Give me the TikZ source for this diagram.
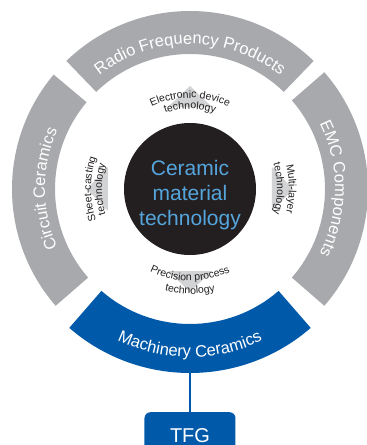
\documentclass[tikz,border=0pt]{standalone}
\usepackage{fontspec}
\setmainfont{Liberation Sans}
\usetikzlibrary{decorations.text,positioning}
\definecolor{bandgray}{HTML}{A7A9AC}
\definecolor{bandblue}{HTML}{0059A9}
\definecolor{coreblue}{HTML}{55A5DD}
\definecolor{coreblack}{HTML}{231F20}
\definecolor{tipgray}{HTML}{D1D3D4}
\newcommand\bandfont{\fontsize{16.5}{18}\selectfont}
\newcommand\techfont{\fontsize{10.5}{12}\selectfont}
\newcommand\corefont{\fontsize{21}{25}\selectfont}
\tikzset{
    x=1pt, y=1pt,
    band/.style={fill=bandgray},
    hiband/.style={fill=bandblue},
    tip/.style={fill=tipgray},
    bandtext/.style={decorate, decoration={text along path, text align=center,
        text color=white, text={|\bandfont|#1}}},
    techtext/.style={decorate, decoration={text along path, text align=center,
        text color=coreblack, text={|\techfont|#1}}},
    coretext/.style={text=coreblue, align=center, font=\corefont},
    tfgbox/.style={fill=bandblue, text=white, rounded corners=6pt,
        minimum width=91pt, minimum height=46pt, font=\fontsize{20}{24}\selectfont},
    link/.style={draw=bandblue, line width=1.2pt},
}

\begin{document}
\begin{tikzpicture}
    \clip (-190,-256) rectangle (177,189);

    % outer ring
    \foreach \s/\e in {46/134, 140/221, 319/401}
        \fill[band] (\s:135) arc (\s:\e:135) -- (\e:178) arc (\e:\s:178) -- cycle;
    \fill[hiband] (229:135) arc (229:311:135) -- (311:184) arc (311:229:184) -- cycle;

    \path[bandtext={Radio Frequency Products}] (140:145) arc (140:40:145);
    \path[bandtext={Circuit Ceramics}] (230:145) arc (230:130:145);
    \path[bandtext={EMC Components}] (50:145) arc (50:-50:145);
    \path[bandtext={Machinery Ceramics}] (220:168) arc (220:320:168);

    % inner tips
    \foreach \a in {90,0,180,270}
        \fill[tip, rotate=\a] (103,0) -- (82,22) -- (82,-22) -- cycle;

    \path[techtext={Electronic device}] (130:91) arc (130:50:91);
    \path[techtext={technology}] (130:80) arc (130:50:80);
    \path[techtext={Sheet-casting}] (220:99) arc (220:140:99);
    \path[techtext={technology}] (220:88) arc (220:140:88);
    \path[techtext={Multi-layer}] (40:99) arc (40:-40:99);
    \path[techtext={technology}] (40:87) arc (40:-40:87);
    \path[techtext={Precision process}] (230:92) arc (230:310:92);
    \path[techtext={technology}] (230:105) arc (230:310:105);

    \node[circle, fill=coreblack, minimum size=132pt, inner sep=0pt] (core) at (0,0) {};
    \node[coretext] (core-label) at ([yshift=-6pt]core.center) {Ceramic\\material\\technology};

    \coordinate (mc) at (0,-184);
    \node[tfgbox, below=39pt of mc] (tfg) {TFG};
    \draw[link] (mc) -- (tfg);
\end{tikzpicture}
\end{document}
